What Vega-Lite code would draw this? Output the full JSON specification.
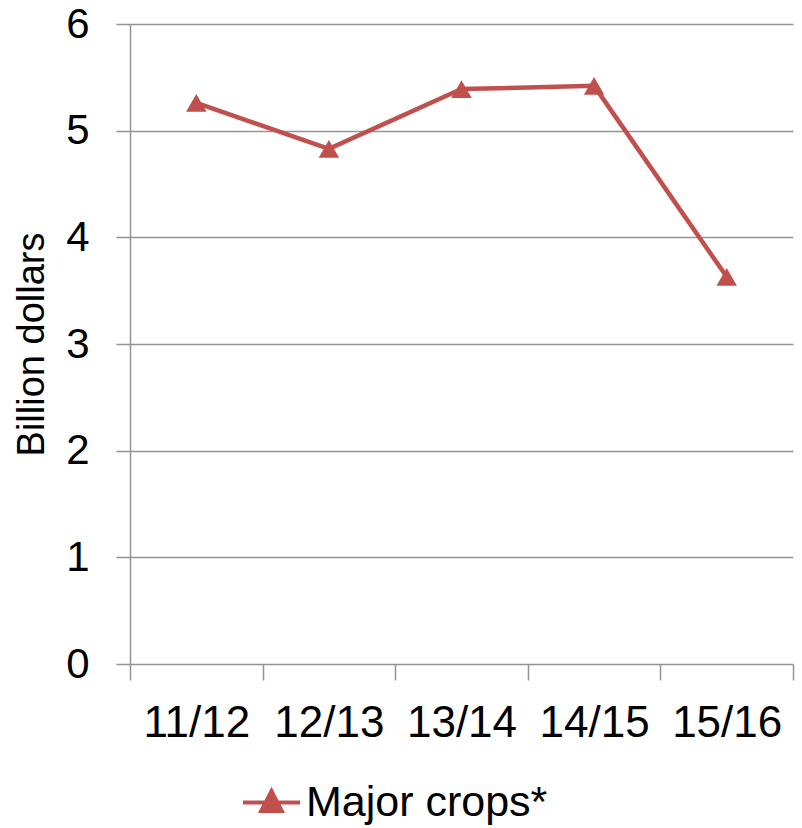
{
  "$schema": "https://vega.github.io/schema/vega-lite/v6.json",
  "autosize": "none",
  "width": 663,
  "height": 640,
  "padding": {"left": 130, "top": 24, "right": 9, "bottom": 164},
  "background": "white",
  "config": {"view": {"stroke": null}, "font": "Liberation Sans"},
  "data": {"values": [
    {"year": "11/12", "value": 5.26, "series": "Major crops*"},
    {"year": "12/13", "value": 4.83, "series": "Major crops*"},
    {"year": "13/14", "value": 5.39, "series": "Major crops*"},
    {"year": "14/15", "value": 5.42, "series": "Major crops*"},
    {"year": "15/16", "value": 3.63, "series": "Major crops*"}
  ]},
  "encoding": {
    "x": {
      "field": "year", "type": "ordinal", "bandPosition": 0.5,
      "scale": {"type": "band", "paddingInner": 0, "paddingOuter": 0},
      "axis": {
        "title": null, "labelAngle": 0, "labelFontSize": 44, "labelColor": "black",
        "tickBand": "extent", "ticks": true, "tickSize": 16, "tickColor": "#939393", "tickWidth": 1.5,
        "domain": false, "grid": false, "labelPadding": 21
      }
    },
    "y": {
      "field": "value", "type": "quantitative",
      "scale": {"domain": [0, 6], "nice": false},
      "axis": {
        "title": "Billion dollars", "titleFontSize": 38, "titleFontWeight": "normal", "titleColor": "black",
        "titlePadding": 14,
        "values": [0, 1, 2, 3, 4, 5, 6], "labelFontSize": 42, "labelColor": "black", "labelPadding": 27,
        "tickSize": 14, "tickColor": "#939393", "tickWidth": 1.5,
        "domainColor": "#939393", "domainWidth": 1.5,
        "grid": true, "gridColor": "#939393", "gridWidth": 1.5
      }
    },
    "color": {
      "field": "series", "type": "nominal",
      "scale": {"range": ["#C0504D"]},
      "legend": {
        "title": null, "orient": "none", "legendX": 111, "legendY": 748,
        "labelFontSize": 43, "labelColor": "black", "labelLimit": 600,
        "symbolType": "M-1,0L1,0M0,-0.4L0.36,0.3L-0.36,0.3Z",
        "symbolSize": 3249, "symbolStrokeWidth": 4, "symbolFillColor": "#C0504D", "symbolStrokeColor": "#C0504D",
        "labelOffset": 4
      }
    }
  },
  "layer": [
    {"mark": {"type": "line", "strokeWidth": 4.5}},
    {"mark": {"type": "point", "shape": "triangle-up", "filled": true, "size": 420, "opacity": 1}}
  ]
}
